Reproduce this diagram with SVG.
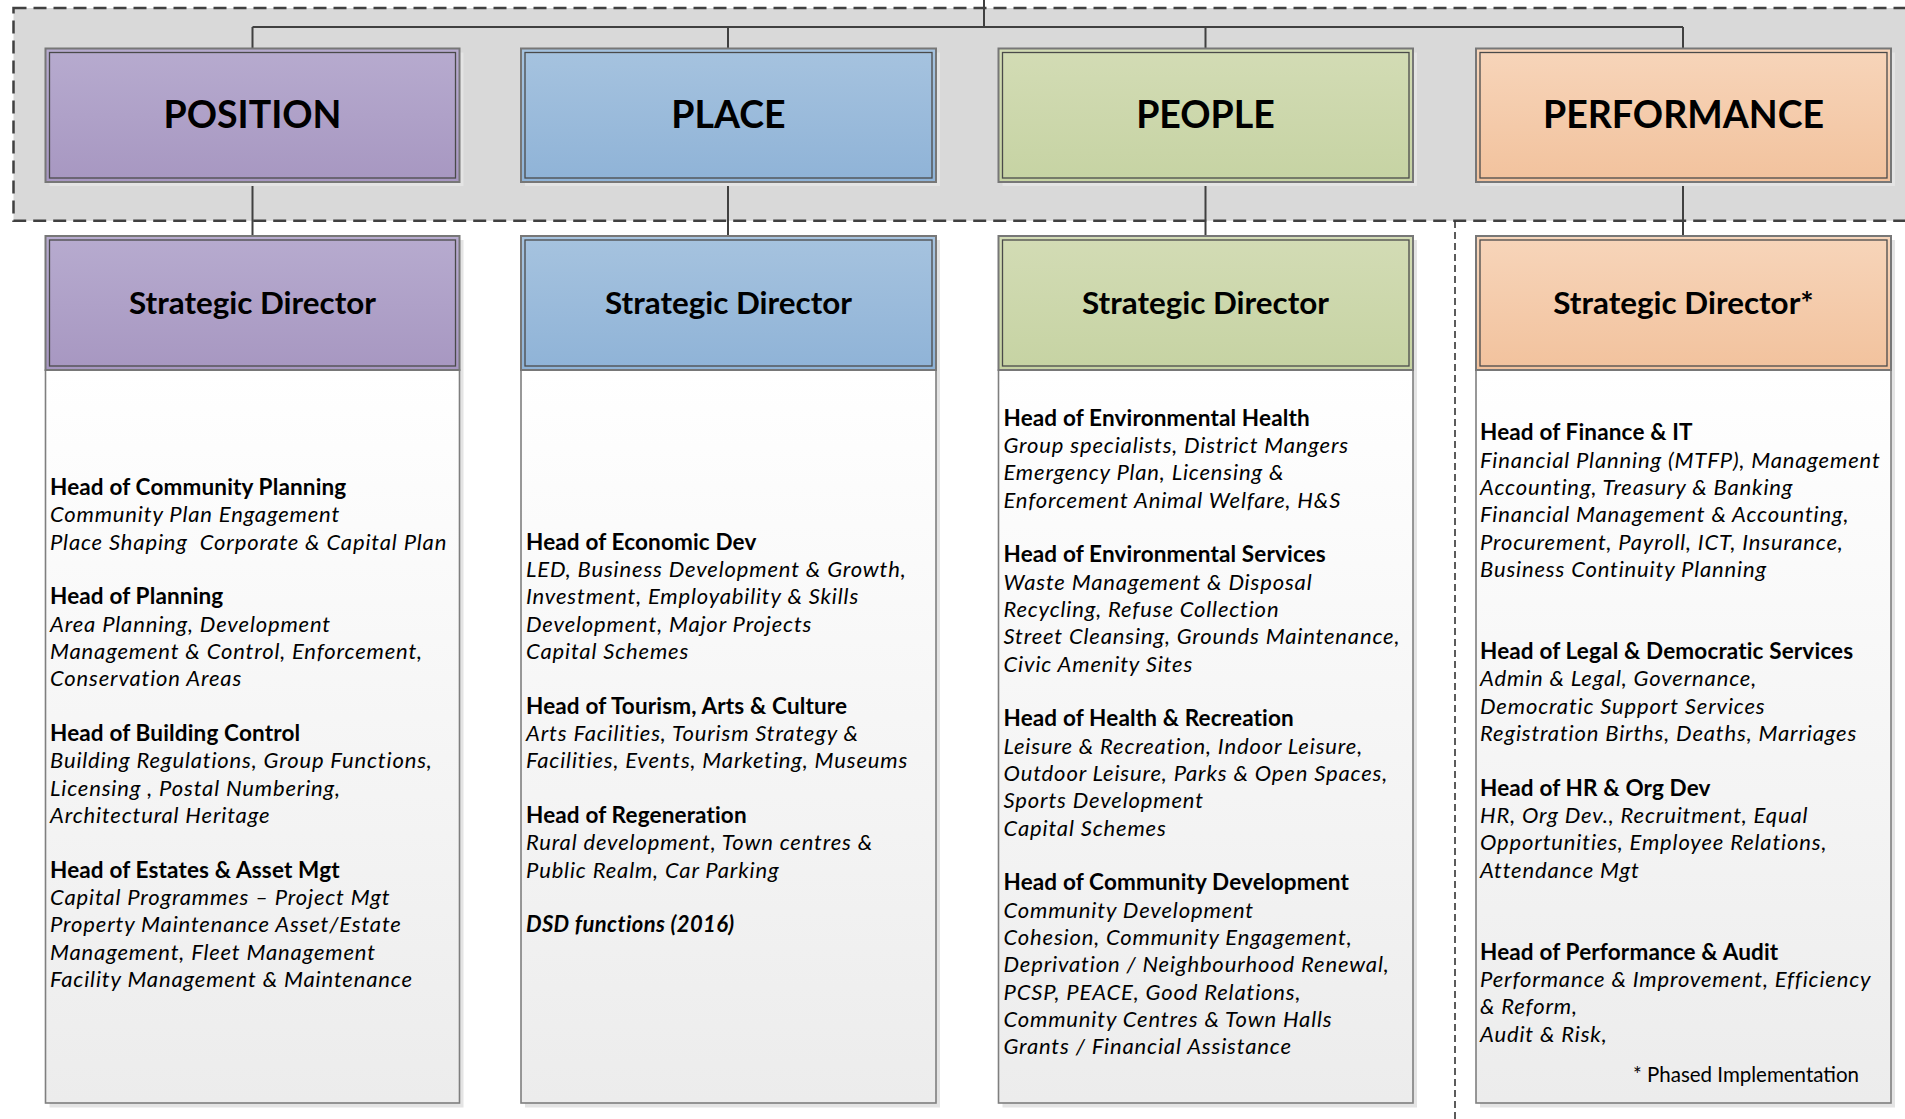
<svg xmlns="http://www.w3.org/2000/svg" width="1905" height="1119" viewBox="0 0 1905 1119">
  <defs>
    <linearGradient id="gPos" x1="0" y1="0" x2="0" y2="1">
      <stop offset="0" stop-color="#b7abcf"/>
      <stop offset="1" stop-color="#a797c1"/>
    </linearGradient>
    <linearGradient id="gPlace" x1="0" y1="0" x2="0" y2="1">
      <stop offset="0" stop-color="#a6c3df"/>
      <stop offset="1" stop-color="#8fb3d7"/>
    </linearGradient>
    <linearGradient id="gPeople" x1="0" y1="0" x2="0" y2="1">
      <stop offset="0" stop-color="#d3dcb5"/>
      <stop offset="1" stop-color="#c6d3a3"/>
    </linearGradient>
    <linearGradient id="gPerf" x1="0" y1="0" x2="0" y2="1">
      <stop offset="0" stop-color="#f7d5ba"/>
      <stop offset="1" stop-color="#f2c29d"/>
    </linearGradient>
    <linearGradient id="gBody" x1="0" y1="0" x2="0" y2="1">
      <stop offset="0" stop-color="#ffffff"/>
      <stop offset="1" stop-color="#ececec"/>
    </linearGradient>
  </defs>
  <style>
    .band { fill: #d9d9d9; stroke: #404040; stroke-width: 2.5; stroke-dasharray: 13 7; }
    .split { fill: none; stroke: #333333; stroke-width: 1.6; stroke-dasharray: 7 4; }
    .outer { stroke: #777777; stroke-width: 2; }
    .inner { fill: none; stroke: #4a4a4a; stroke-width: 1.3; }
    .shadow { fill: #e4e4e4; }
    .body { fill: url(#gBody); stroke: #7f7f7f; stroke-width: 1.6; }
    .link { fill: none; stroke: #404040; stroke-width: 2; }
    .title { font-family: Lato, "Liberation Sans", sans-serif; font-weight: 700; font-size: 37.5px; fill: #000; text-anchor: middle; }
    .sd { font-family: Lato, "Liberation Sans", sans-serif; font-weight: 700; font-size: 31.4px; fill: #000; text-anchor: middle; }
    .txt { font-family: Lato, "Liberation Sans", sans-serif; font-size: 22px; fill: #000; }
    .h { font-weight: 700; font-style: normal; font-size: 22.5px; letter-spacing: 0.15px; }
    .i { font-style: italic; font-weight: 400; letter-spacing: 0.85px; }
    .bi { font-style: italic; font-weight: 700; letter-spacing: 0.4px; }
    .note { font-style: normal; font-weight: 400; font-size: 20.5px; }
  </style>

  <!-- shaded band behind the four themes -->
  <rect class="band" x="13.5" y="8" width="1910" height="212.7"/>
  <!-- dashed divider for the phased column -->
  <line class="split" x1="1455" y1="221" x2="1455" y2="1119"/>

  <!-- connectors -->
  <g id="connectors">
    <path class="link" d="M984 0 V27 M252.5 27 H1683 M252.5 27 V48.5 M728 27 V48.5 M1205.5 27 V48.5 M1683 27 V48.5"/>
    <path class="link" d="M252.5 182 V236 M728 182 V236 M1205.5 182 V236 M1683 182 V236"/>
  </g>

  <!-- POSITION column -->
  <g id="position">
    <rect class="shadow" x="49.5" y="52.5" width="414" height="133.5"/>
    <rect class="outer" x="45.5" y="48.5" width="414" height="133.5" fill="url(#gPos)"/>
    <rect class="inner" x="49.5" y="52.5" width="406" height="125.5"/>
    <text class="title" x="252.5" y="127.5">POSITION</text>
  </g>
  <g id="position-director">
    <rect class="shadow" x="49.5" y="240" width="414" height="867.5"/>
    <rect class="body" x="45.5" y="370" width="414" height="733"/>
    <rect class="outer" x="45.5" y="236" width="414" height="134" fill="url(#gPos)"/>
    <rect class="inner" x="49.5" y="240" width="406" height="126"/>
    <text class="sd" x="252.5" y="313.5">Strategic Director</text>
    <text class="txt" x="50" y="495">
      <tspan class="h" x="50" dy="0">Head of Community Planning</tspan>
      <tspan class="i" x="50" dy="27.33">Community Plan Engagement</tspan>
      <tspan class="i" x="50" dy="27.33" xml:space="preserve">Place Shaping  Corporate &amp; Capital Plan</tspan>
      <tspan class="h" x="50" dy="54.66">Head of Planning</tspan>
      <tspan class="i" x="50" dy="27.33">Area Planning, Development</tspan>
      <tspan class="i" x="50" dy="27.33">Management &amp; Control, Enforcement,</tspan>
      <tspan class="i" x="50" dy="27.33">Conservation Areas</tspan>
      <tspan class="h" x="50" dy="54.66">Head of Building Control</tspan>
      <tspan class="i" x="50" dy="27.33">Building Regulations, Group Functions,</tspan>
      <tspan class="i" x="50" dy="27.33">Licensing , Postal Numbering,</tspan>
      <tspan class="i" x="50" dy="27.33">Architectural Heritage</tspan>
      <tspan class="h" x="50" dy="54.66">Head of Estates &amp; Asset Mgt</tspan>
      <tspan class="i" x="50" dy="27.33">Capital Programmes – Project Mgt</tspan>
      <tspan class="i" x="50" dy="27.33">Property Maintenance Asset/Estate</tspan>
      <tspan class="i" x="50" dy="27.33">Management, Fleet Management</tspan>
      <tspan class="i" x="50" dy="27.33">Facility Management &amp; Maintenance</tspan>
    </text>
  </g>

  <!-- PLACE column -->
  <g id="place">
    <rect class="shadow" x="525" y="52.5" width="415" height="133.5"/>
    <rect class="outer" x="521" y="48.5" width="415" height="133.5" fill="url(#gPlace)"/>
    <rect class="inner" x="525" y="52.5" width="407" height="125.5"/>
    <text class="title" x="728.5" y="127.5">PLACE</text>
  </g>
  <g id="place-director">
    <rect class="shadow" x="525" y="240" width="415" height="867.5"/>
    <rect class="body" x="521" y="370" width="415" height="733"/>
    <rect class="outer" x="521" y="236" width="415" height="134" fill="url(#gPlace)"/>
    <rect class="inner" x="525" y="240" width="407" height="126"/>
    <text class="sd" x="728.5" y="313.5">Strategic Director</text>
    <text class="txt" x="526" y="549.7">
      <tspan class="h" x="526" dy="0">Head of Economic Dev</tspan>
      <tspan class="i" x="526" dy="27.33">LED, Business Development &amp; Growth,</tspan>
      <tspan class="i" x="526" dy="27.33">Investment, Employability &amp; Skills</tspan>
      <tspan class="i" x="526" dy="27.33">Development, Major Projects</tspan>
      <tspan class="i" x="526" dy="27.33">Capital Schemes</tspan>
      <tspan class="h" x="526" dy="54.66">Head of Tourism, Arts &amp; Culture</tspan>
      <tspan class="i" x="526" dy="27.33">Arts Facilities, Tourism Strategy &amp;</tspan>
      <tspan class="i" x="526" dy="27.33">Facilities, Events, Marketing, Museums</tspan>
      <tspan class="h" x="526" dy="54.66">Head of Regeneration</tspan>
      <tspan class="i" x="526" dy="27.33">Rural development, Town centres &amp;</tspan>
      <tspan class="i" x="526" dy="27.33">Public Realm, Car Parking</tspan>
      <tspan class="bi" x="526" dy="54.66">DSD functions (2016)</tspan>
    </text>
  </g>

  <!-- PEOPLE column -->
  <g id="people">
    <rect class="shadow" x="1002.5" y="52.5" width="414.5" height="133.5"/>
    <rect class="outer" x="998.5" y="48.5" width="414.5" height="133.5" fill="url(#gPeople)"/>
    <rect class="inner" x="1002.5" y="52.5" width="406.5" height="125.5"/>
    <text class="title" x="1205.5" y="127.5">PEOPLE</text>
  </g>
  <g id="people-director">
    <rect class="shadow" x="1002.5" y="240" width="414.5" height="867.5"/>
    <rect class="body" x="998.5" y="370" width="414.5" height="733"/>
    <rect class="outer" x="998.5" y="236" width="414.5" height="134" fill="url(#gPeople)"/>
    <rect class="inner" x="1002.5" y="240" width="406.5" height="126"/>
    <text class="sd" x="1205.5" y="313.5">Strategic Director</text>
    <text class="txt" x="1003.5" y="425.8">
      <tspan class="h" x="1003.5" dy="0">Head of Environmental Health</tspan>
      <tspan class="i" x="1003.5" dy="27.33">Group specialists, District Mangers</tspan>
      <tspan class="i" x="1003.5" dy="27.33">Emergency Plan, Licensing &amp;</tspan>
      <tspan class="i" x="1003.5" dy="27.33">Enforcement Animal Welfare, H&amp;S</tspan>
      <tspan class="h" x="1003.5" dy="54.66">Head of Environmental Services</tspan>
      <tspan class="i" x="1003.5" dy="27.33">Waste Management &amp; Disposal</tspan>
      <tspan class="i" x="1003.5" dy="27.33">Recycling, Refuse Collection</tspan>
      <tspan class="i" x="1003.5" dy="27.33">Street Cleansing, Grounds Maintenance,</tspan>
      <tspan class="i" x="1003.5" dy="27.33">Civic Amenity Sites</tspan>
      <tspan class="h" x="1003.5" dy="54.66">Head of Health &amp; Recreation</tspan>
      <tspan class="i" x="1003.5" dy="27.33">Leisure &amp; Recreation, Indoor Leisure,</tspan>
      <tspan class="i" x="1003.5" dy="27.33">Outdoor Leisure, Parks &amp; Open Spaces,</tspan>
      <tspan class="i" x="1003.5" dy="27.33">Sports Development</tspan>
      <tspan class="i" x="1003.5" dy="27.33">Capital Schemes</tspan>
      <tspan class="h" x="1003.5" dy="54.66">Head of Community Development</tspan>
      <tspan class="i" x="1003.5" dy="27.33">Community Development</tspan>
      <tspan class="i" x="1003.5" dy="27.33">Cohesion, Community Engagement,</tspan>
      <tspan class="i" x="1003.5" dy="27.33">Deprivation / Neighbourhood Renewal,</tspan>
      <tspan class="i" x="1003.5" dy="27.33">PCSP, PEACE, Good Relations,</tspan>
      <tspan class="i" x="1003.5" dy="27.33">Community Centres &amp; Town Halls</tspan>
      <tspan class="i" x="1003.5" dy="27.33">Grants / Financial Assistance</tspan>
    </text>
  </g>

  <!-- PERFORMANCE column -->
  <g id="performance">
    <rect class="shadow" x="1480" y="52.5" width="415" height="133.5"/>
    <rect class="outer" x="1476" y="48.5" width="415" height="133.5" fill="url(#gPerf)"/>
    <rect class="inner" x="1480" y="52.5" width="407" height="125.5"/>
    <text class="title" x="1683.5" y="127.5">PERFORMANCE</text>
  </g>
  <g id="performance-director">
    <rect class="shadow" x="1480" y="240" width="415" height="867.5"/>
    <rect class="body" x="1476" y="370" width="415" height="733"/>
    <rect class="outer" x="1476" y="236" width="415" height="134" fill="url(#gPerf)"/>
    <rect class="inner" x="1480" y="240" width="407" height="126"/>
    <text class="sd" x="1683.5" y="313.5">Strategic Director*</text>
    <text class="txt" x="1480" y="440.3">
      <tspan class="h" x="1480" dy="0">Head of Finance &amp; IT</tspan>
      <tspan class="i" x="1480" dy="27.33">Financial Planning (MTFP), Management</tspan>
      <tspan class="i" x="1480" dy="27.33">Accounting, Treasury &amp; Banking</tspan>
      <tspan class="i" x="1480" dy="27.33">Financial Management &amp; Accounting,</tspan>
      <tspan class="i" x="1480" dy="27.33">Procurement, Payroll, ICT, Insurance,</tspan>
      <tspan class="i" x="1480" dy="27.33">Business Continuity Planning</tspan>
      <tspan class="h" x="1480" dy="81.99">Head of Legal &amp; Democratic Services</tspan>
      <tspan class="i" x="1480" dy="27.33">Admin &amp; Legal, Governance,</tspan>
      <tspan class="i" x="1480" dy="27.33">Democratic Support Services</tspan>
      <tspan class="i" x="1480" dy="27.33">Registration Births, Deaths, Marriages</tspan>
      <tspan class="h" x="1480" dy="54.66">Head of HR &amp; Org Dev</tspan>
      <tspan class="i" x="1480" dy="27.33">HR, Org Dev., Recruitment, Equal</tspan>
      <tspan class="i" x="1480" dy="27.33">Opportunities, Employee Relations,</tspan>
      <tspan class="i" x="1480" dy="27.33">Attendance Mgt</tspan>
      <tspan class="h" x="1480" dy="81.99">Head of Performance &amp; Audit</tspan>
      <tspan class="i" x="1480" dy="27.33">Performance &amp; Improvement, Efficiency</tspan>
      <tspan class="i" x="1480" dy="27.33">&amp; Reform,</tspan>
      <tspan class="i" x="1480" dy="27.33">Audit &amp; Risk,</tspan>
    </text>
    <text class="txt note" x="1859" y="1082" text-anchor="end">* Phased Implementation</text>
  </g>
</svg>
